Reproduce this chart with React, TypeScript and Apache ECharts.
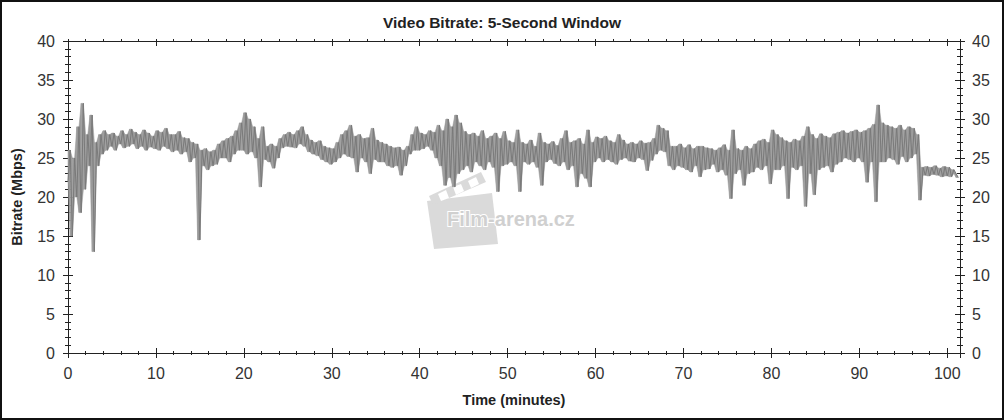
import React, { useEffect, useRef } from "react";
import * as echarts from "echarts";

const TITLE = "Video Bitrate: 5-Second Window";
const X_NAME = "Time (minutes)";
const Y_NAME = "Bitrate (Mbps)";
const WATERMARK = "Film-arena.cz";
const STEP_MIN = 0.25; // sample spacing in minutes
const X_MAX = 101.45;
const Y_MAX = 40;

// bitrate (Mbps), one value every 0.25 min (one row per minute)
const bitrate: number[] = [
  22, 26, 15, 25,
  20, 29, 18, 32,
  21, 28, 24, 30.5,
  13, 27, 24, 28,
  25.5, 28.5, 26, 28,
  26.5, 28.2, 26, 27.8,
  26.8, 28.5, 26.3, 28,
  26.5, 28.7, 26.8, 28.3,
  26.2, 28, 26.5, 28.6,
  26, 28.2, 26.4, 27.8,
  26.2, 28.5, 26, 28.3,
  26.5, 28.8, 26.2, 28,
  25.8, 28, 26, 28.4,
  25.5, 27.6, 25.8, 27.5,
  24.5, 27, 25, 26.8,
  14.5, 26, 24, 26.2,
  23.5, 25.8, 24, 26,
  24.2, 26.8, 25, 27.2,
  25, 27.5, 24.5, 27.8,
  25.5, 28.5, 26, 29.5,
  26, 30.8, 25.5, 30,
  25.8, 29, 25, 27.5,
  21.3, 29, 24.8, 26.5,
  24.5, 26.8, 23.7, 26.5,
  25, 27.5, 26.3, 28,
  26.5, 28.3, 26.4, 28,
  26.3, 28.5, 26.8, 29,
  26.5, 28, 25.8, 27.3,
  25.5, 27, 25.3, 27.2,
  24.8, 26.5, 24.5, 26.3,
  24.2, 26.2, 24.5, 27,
  25, 28, 25.5, 28.5,
  25.2, 29.2, 25, 27.8,
  23.2, 28, 25, 27.5,
  24.5, 27.6, 23, 28.8,
  24.8, 27.3, 24.5, 27,
  24.5, 26.8, 24, 26.5,
  23.8, 26.3, 24, 26.4,
  22.8, 26, 24, 26.5,
  25.5, 28, 26, 29,
  26, 28.2, 26.2, 28,
  26.5, 28.5, 26, 28.3,
  25, 29.2, 24, 28.5,
  21.5, 30, 22.5, 29,
  21.3, 30.5, 23, 29.5,
  23.5, 28.4, 24, 28,
  23.2, 28.2, 24.5, 27.8,
  24, 28.5, 23.5, 27.5,
  24.5, 27.8, 23.8, 28.2,
  20.7, 27.5, 24, 28.4,
  24.2, 27.2, 24.5, 27,
  24, 28.6, 20.7, 27,
  24.5, 26.8, 24.2, 27.3,
  24.5, 26.5, 23.8, 28.2,
  21.5, 27, 24.5, 26.8,
  24.8, 27.1, 24.3, 26.6,
  24, 27.5, 24.5, 28.5,
  23.5, 27, 24, 27.2,
  21.3, 27.5, 23, 26.8,
  22.4, 28.6, 21.3, 27,
  24.5, 27.7, 25, 27.5,
  24.5, 27.8, 24.8, 27.2,
  24.5, 27, 24.2, 28,
  24.8, 27.3, 25, 26.8,
  24.6, 27, 24.5, 26.8,
  25, 27.2, 24.8, 26.9,
  23.4, 27, 24.7, 27.5,
  25.5, 29.2, 26, 28.8,
  25.8, 28.5, 24, 26.5,
  23.5, 26.5, 24, 26.8,
  23.8, 26.3, 23.5, 26.7,
  23.2, 26.2, 24, 26.5,
  22.6, 26.5, 23.5, 26.3,
  23.6, 26.2, 24.2, 26,
  23.2, 26.3, 23.5, 26.7,
  22.8, 26, 19.8, 28.6,
  23, 26.2, 23.5, 26,
  21.5, 26.5, 23, 26.2,
  23.2, 26.8, 23.8, 27.2,
  23.5, 27.4, 24, 27,
  21.7, 28.6, 23.5, 28,
  23.5, 27.6, 24, 27.2,
  19.8, 27, 23.8, 27.4,
  23.5, 27.2, 24, 27.8,
  18.8, 29, 23, 28,
  20.3, 27.5, 23.5, 28.1,
  23.8, 27.8, 24, 27.6,
  23.2, 28.1, 24.2, 28.3,
  24.5, 28.5, 25, 28.2,
  24.8, 28.4, 24.5, 28.6,
  25, 28.3, 24.5, 28.5,
  21.9, 28.8, 24.5, 29.3,
  19.4, 31.8, 24.5, 29.5,
  24.5, 29.2, 25, 29,
  24.8, 28.8, 24.2, 29.2,
  25.2, 28.6, 24.5, 29,
  25, 28.8, 25.5, 28,
  19.6, 23.8, 22.8, 23.9,
  22.7, 23.8, 22.9, 24,
  22.8, 23.7, 22.6, 23.9,
  22.7, 23.8, 22.6, 23.5,
  23, 22.5,
];

const AXIS_COLOR = "#222";
const FONT = "Arial, 'Liberation Sans', sans-serif";
const LABEL_FONT = { fontFamily: FONT, fontSize: 16, color: "#333" };

export default function App() {
  const ref = useRef<HTMLDivElement>(null);

  useEffect(() => {
    document.body.style.margin = "0";
    const chart = echarts.init(ref.current!, null, { renderer: "svg" });
    const n = bitrate.length;
    const data = bitrate.map((v, i) => [i * STEP_MIN, v]);
    // envelope of each sample and the next one, used to shade the dense band
    const env = bitrate.map((v, i) => {
      const w = i < n - 1 ? bitrate[i + 1] : v;
      return [Math.min(v, w), Math.max(v, w)];
    });
    const bandItems = env.slice(0, n - 1).map((e, i) => [
      i * STEP_MIN, e[0], e[1], (i + 1) * STEP_MIN, env[i + 1][0], env[i + 1][1],
    ]);

    const xBase = { type: "value", min: 0, max: X_MAX, splitLine: { show: false }, axisLine: { show: true, onZero: false, lineStyle: { color: AXIS_COLOR } } };
    const yBase = { type: "value", min: 0, max: Y_MAX, splitLine: { show: false }, axisLine: { show: true, onZero: false, lineStyle: { color: AXIS_COLOR } } };
    const noLabel = { show: false };

    const xMajor = (position: string, inside: boolean, labels: boolean, extra: any = {}) => ({
      ...xBase, position, interval: 10,
      axisTick: { show: true, inside, length: 5, lineStyle: { color: AXIS_COLOR } },
      axisLabel: labels ? { ...LABEL_FONT, margin: 12, formatter: (v: number) => (v % 10 === 0 ? String(v) : "") } : noLabel,
      ...extra,
    });
    const xMinor = (position: string, inside: boolean) => ({
      ...xBase, position, interval: 2,
      axisTick: { show: true, inside, length: 2, lineStyle: { color: AXIS_COLOR } },
      axisLabel: noLabel,
    });
    const yMajor = (position: string, inside: boolean, labels: boolean, extra: any = {}) => ({
      ...yBase, position, interval: 5,
      axisTick: { show: true, inside, length: 5, lineStyle: { color: AXIS_COLOR } },
      axisLabel: labels ? { ...LABEL_FONT, margin: position === "left" ? 13 : 12 } : noLabel,
      ...extra,
    });
    const yMinor = (position: string, inside: boolean) => ({
      ...yBase, position, interval: 1,
      axisTick: { show: true, inside, length: 3, lineStyle: { color: AXIS_COLOR } },
      axisLabel: noLabel,
    });

    const nameStyle = { fontFamily: FONT, fontSize: 14.5, fontWeight: "bold", color: "#222" };

    chart.setOption({
      animation: false,
      backgroundColor: "#ffffff",
      title: {
        text: TITLE, left: "center", top: 9,
        textStyle: { fontFamily: FONT, fontSize: 15.5, fontWeight: "bold", color: "#222" },
      },
      grid: { left: 68, right: 44, top: 41, bottom: 67 },
      xAxis: [
        xMajor("bottom", false, true, { name: X_NAME, nameLocation: "middle", nameGap: 39, nameTextStyle: nameStyle }),
        xMajor("bottom", true, false),
        xMinor("bottom", false),
        xMinor("bottom", true),
        xMajor("top", true, false),
        xMinor("top", false),
      ],
      yAxis: [
        yMajor("left", false, true, { name: Y_NAME, nameLocation: "middle", nameGap: 44, nameTextStyle: nameStyle }),
        yMajor("left", true, false),
        yMinor("left", false),
        yMinor("left", true),
        yMajor("right", false, true),
        yMajor("right", true, false),
        yMinor("right", false),
        yMinor("right", true),
      ],
      graphic: [
        {
          type: "group", z: 0, silent: true,
          children: [
            { type: "polygon", shape: { points: [[427, 201], [492, 193], [498, 244], [434, 249]] }, style: { fill: "#dadada" } },
            { type: "polygon", shape: { points: [[429, 196], [481, 172], [486, 182], [433, 205]] }, style: { fill: "#dadada" } },
            { type: "polygon", shape: { points: [[438, 194], [446, 190], [449, 198], [441, 201]] }, style: { fill: "#ffffff" } },
            { type: "polygon", shape: { points: [[453, 187], [461, 184], [464, 191], [456, 195]] }, style: { fill: "#ffffff" } },
            { type: "polygon", shape: { points: [[468, 181], [476, 177], [479, 184], [471, 188]] }, style: { fill: "#ffffff" } },
            {
              type: "text", x: 447, y: 219,
              style: { text: WATERMARK, fontFamily: FONT, fontSize: 20, fontWeight: "bold", fill: "#d0d0d0", stroke: "#ffffff", lineWidth: 2, verticalAlign: "middle" },
            },
          ],
        },
        { type: "rect", z: 100, silent: true, shape: { x: 1, y: 1, width: 1002, height: 418 }, style: { fill: "none", stroke: "#111", lineWidth: 2 } },
      ],
      series: [
        {
          type: "custom", xAxisIndex: 0, yAxisIndex: 0, data: bandItems, z: 3, silent: true,
          encode: { x: [0, 3], y: [1, 2, 4, 5] },
          renderItem: (params: any, api: any) => {
            const a = api.coord([api.value(0), api.value(1)]);
            const b = api.coord([api.value(0), api.value(2)]);
            const c = api.coord([api.value(3), api.value(5)]);
            const d = api.coord([api.value(3), api.value(4)]);
            return { type: "polygon", shape: { points: [a, b, c, d] }, style: { fill: "#9a9a9a", stroke: "#9a9a9a", lineWidth: 0.5 } };
          },
        },
        {
          type: "line", xAxisIndex: 0, yAxisIndex: 0, data, symbol: "none", z: 5,
          lineStyle: { color: "#7a7a7a", width: 1 },
        },
      ],
    });
    return () => chart.dispose();
  }, []);

  return <div ref={ref} style={{ width: 1004, height: 420 }} />;
}
